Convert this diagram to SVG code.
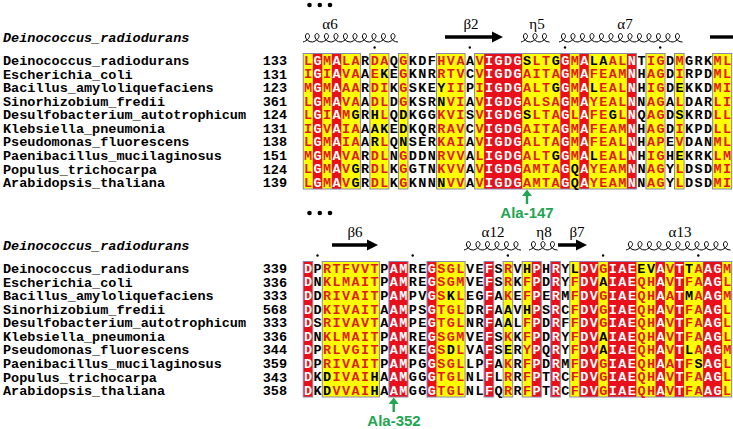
<svg xmlns="http://www.w3.org/2000/svg" width="733" height="429" viewBox="0 0 733 429">
<style>
.seq{font-family:"Liberation Mono","Courier New",monospace;font-weight:bold;font-size:13.5px;letter-spacing:1.42px;fill:#000}
.r{fill:#e21a1a}
.w{fill:#ffffff}
.nm{font-family:"Liberation Mono","Courier New",monospace;font-weight:bold;font-size:13.5px;fill:#000}
.hd{font-family:"Liberation Mono","Courier New",monospace;font-weight:bold;font-style:italic;font-size:13.5px;fill:#000}
.num{text-anchor:end}
.yl{fill:#ffff00}
.rd{fill:#e8101a}
.fr{fill:none;stroke:#8c84aa;stroke-width:1}
.coil{fill:none;stroke:#000;stroke-width:1}
.ss{font-family:"Liberation Serif","Times New Roman",serif;font-size:15px;fill:#000;text-anchor:middle}
.arw{fill:#000}
.grn{fill:#22a552}
.gtx{font-family:"Liberation Sans",Arial,sans-serif;font-weight:bold;font-size:15px;fill:#22a552;text-anchor:middle}
</style>

<g id="top-block">
  <g id="top-ellipsis"><circle cx="309.5" cy="5" r="2.3"/><circle cx="319.8" cy="5" r="2.3"/><circle cx="330" cy="5" r="2.3"/></g>
  <g id="top-header"><text class="hd" x="3" y="41.5">Deinococcus_radiodurans</text></g>
  <g id="top-ss">
    <text class="ss" x="330" y="29">α6</text>
    <path class="coil" d="M303,42c4,-1 8,-5 6,-7.5c-1.5,-2 -4,-0.5 -3.5,2.5c0.5,3 3.5,5 7,5c4,-1 8,-5 6,-7.5c-1.5,-2 -4,-0.5 -3.5,2.5c0.5,3 3.5,5 7,5c4,-1 8,-5 6,-7.5c-1.5,-2 -4,-0.5 -3.5,2.5c0.5,3 3.5,5 7,5c4,-1 8,-5 6,-7.5c-1.5,-2 -4,-0.5 -3.5,2.5c0.5,3 3.5,5 7,5c4,-1 8,-5 6,-7.5c-1.5,-2 -4,-0.5 -3.5,2.5c0.5,3 3.5,5 7,5c4,-1 8,-5 6,-7.5c-1.5,-2 -4,-0.5 -3.5,2.5c0.5,3 3.5,5 7,5c4,-1 8,-5 6,-7.5c-1.5,-2 -4,-0.5 -3.5,2.5c0.5,3 3.5,5 7,5c4,-1 8,-5 6,-7.5c-1.5,-2 -4,-0.5 -3.5,2.5c0.5,3 3.5,5 7,5c4,-1 8,-5 6,-7.5c-1.5,-2 -4,-0.5 -3.5,2.5c0.5,3 3.5,5 7,5c4,-1 8,-5 6,-7.5c-1.5,-2 -4,-0.5 -3.5,2.5c0.5,3 3.5,5 7,5"/>
    <text class="ss" x="471" y="29">β2</text>
    <polygon class="arw" points="445,35.3 492,35.3 492,31.5 503,37 492,42.5 492,38.7 445,38.7"/>
    <text class="ss" x="537" y="29">η5</text>
    <path class="coil" d="M521,42c4,-1 8,-5 6,-7.5c-1.5,-2 -4,-0.5 -3.5,2.5c0.5,3 3.5,5 7,5c4,-1 8,-5 6,-7.5c-1.5,-2 -4,-0.5 -3.5,2.5c0.5,3 3.5,5 7,5c4,-1 8,-5 6,-7.5c-1.5,-2 -4,-0.5 -3.5,2.5c0.5,3 3.5,5 7,5"/>
    <text class="ss" x="625" y="29">α7</text>
    <path class="coil" d="M559,42c4,-1 8,-5 6,-7.5c-1.5,-2 -4,-0.5 -3.5,2.5c0.5,3 3.5,5 7,5c4,-1 8,-5 6,-7.5c-1.5,-2 -4,-0.5 -3.5,2.5c0.5,3 3.5,5 7,5c4,-1 8,-5 6,-7.5c-1.5,-2 -4,-0.5 -3.5,2.5c0.5,3 3.5,5 7,5c4,-1 8,-5 6,-7.5c-1.5,-2 -4,-0.5 -3.5,2.5c0.5,3 3.5,5 7,5c4,-1 8,-5 6,-7.5c-1.5,-2 -4,-0.5 -3.5,2.5c0.5,3 3.5,5 7,5c4,-1 8,-5 6,-7.5c-1.5,-2 -4,-0.5 -3.5,2.5c0.5,3 3.5,5 7,5c4,-1 8,-5 6,-7.5c-1.5,-2 -4,-0.5 -3.5,2.5c0.5,3 3.5,5 7,5c4,-1 8,-5 6,-7.5c-1.5,-2 -4,-0.5 -3.5,2.5c0.5,3 3.5,5 7,5c4,-1 8,-5 6,-7.5c-1.5,-2 -4,-0.5 -3.5,2.5c0.5,3 3.5,5 7,5c4,-1 8,-5 6,-7.5c-1.5,-2 -4,-0.5 -3.5,2.5c0.5,3 3.5,5 7,5c4,-1 8,-5 6,-7.5c-1.5,-2 -4,-0.5 -3.5,2.5c0.5,3 3.5,5 7,5c4,-1 8,-5 6,-7.5c-1.5,-2 -4,-0.5 -3.5,2.5c0.5,3 3.5,5 7,5c4,-1 8,-5 6,-7.5c-1.5,-2 -4,-0.5 -3.5,2.5c0.5,3 3.5,5 7,5"/>
    <rect class="arw" x="710" y="35.3" width="23" height="3.4"/>
    <circle cx="374.6" cy="47.5" r="1.2"/><circle cx="469.8" cy="47.5" r="1.2"/><circle cx="565" cy="47.5" r="1.2"/><circle cx="660.2" cy="47.5" r="1.2"/>
  </g>
  <g id="top-names">
    <text class="nm" x="3" y="65.1">Deinococcus_radiodurans</text>
    <text class="nm" x="3" y="78.65">Escherichia_coli</text>
    <text class="nm" x="3" y="92.2">Bacillus_amyloliquefaciens</text>
    <text class="nm" x="3" y="105.75">Sinorhizobium_fredii</text>
    <text class="nm" x="3" y="119.3">Desulfobacterium_autotrophicum</text>
    <text class="nm" x="3" y="132.85">Klebsiella_pneumonia</text>
    <text class="nm" x="3" y="146.4">Pseudomonas_fluorescens</text>
    <text class="nm" x="3" y="159.95">Paenibacillus_mucilaginosus</text>
    <text class="nm" x="3" y="173.5">Populus_trichocarpa</text>
    <text class="nm" x="3" y="187.05">Arabidopsis_thaliana</text>
    <text class="nm num" x="287" y="65.1">133</text>
    <text class="nm num" x="287" y="78.65">131</text>
    <text class="nm num" x="287" y="92.2">123</text>
    <text class="nm num" x="287" y="105.75">361</text>
    <text class="nm num" x="287" y="119.3">124</text>
    <text class="nm num" x="287" y="132.85">131</text>
    <text class="nm num" x="287" y="146.4">138</text>
    <text class="nm num" x="287" y="159.95">151</text>
    <text class="nm num" x="287" y="173.5">124</text>
    <text class="nm num" x="287" y="187.05">139</text>
  </g>
  <g id="top-alignment" transform="translate(303.24,53.5)">
    <g id="top-yellow" class="yl">
      <rect x="0" y="0" width="9.52" height="135.5"/>
      <rect x="19.04" y="0" width="9.52" height="135.5"/>
      <rect x="38.08" y="0" width="19.04" height="135.5"/>
      <rect x="66.64" y="0" width="19.04" height="135.5"/>
      <rect x="95.2" y="0" width="9.52" height="135.5"/>
      <rect x="133.28" y="0" width="28.56" height="135.5"/>
      <rect x="171.36" y="0" width="9.52" height="135.5"/>
      <rect x="218.96" y="0" width="38.08" height="135.5"/>
      <rect x="266.56" y="0" width="9.52" height="135.5"/>
      <rect x="285.6" y="0" width="38.08" height="135.5"/>
      <rect x="342.72" y="0" width="19.04" height="135.5"/>
      <rect x="371.28" y="0" width="9.52" height="135.5"/>
      <rect x="409.36" y="0" width="19.04" height="135.5"/>
    </g>
    <g id="top-red" class="rd">
      <rect x="9.52" y="0" width="9.52" height="135.5"/>
      <rect x="28.56" y="0" width="9.52" height="135.5"/>
      <rect x="180.88" y="0" width="38.08" height="135.5"/>
      <rect x="257.04" y="0" width="9.52" height="135.5"/>
      <rect x="276.08" y="0" width="9.52" height="135.5"/>
      <rect x="323.68" y="0" width="9.52" height="135.5"/>
    </g>
    <g id="top-frames" class="fr">
      <rect x="0" y="0" width="57.12" height="135.5"/>
      <rect x="66.64" y="0" width="19.04" height="135.5"/>
      <rect x="95.2" y="0" width="9.52" height="135.5"/>
      <rect x="133.28" y="0" width="28.56" height="135.5"/>
      <rect x="171.36" y="0" width="161.84" height="135.5"/>
      <rect x="342.72" y="0" width="19.04" height="135.5"/>
      <rect x="371.28" y="0" width="9.52" height="135.5"/>
      <rect x="409.36" y="0" width="19.04" height="135.5"/>
    </g>
    <g id="top-seqs">
      <text class="seq" x="0.71" y="11.4"><tspan class="r">L</tspan><tspan class="w">G</tspan><tspan class="r">M</tspan><tspan class="w">A</tspan><tspan class="r">LA</tspan>R<tspan class="r">DA</tspan>Q<tspan class="r">G</tspan>KDF<tspan class="r">HVA</tspan>A<tspan class="r">V</tspan><tspan class="w">IGDG</tspan>S<tspan class="r">LT</tspan>G<tspan class="w">G</tspan><tspan class="r">M</tspan><tspan class="w">A</tspan>LA<tspan class="r">AL</tspan><tspan class="w">N</tspan>T<tspan class="r">IG</tspan>D<tspan class="r">M</tspan>GRK<tspan class="r">ML</tspan></text>
      <text class="seq" x="0.71" y="24.95"><tspan class="r">I</tspan><tspan class="w">G</tspan><tspan class="r">I</tspan><tspan class="w">A</tspan><tspan class="r">VA</tspan>A<tspan class="r">E</tspan>KE<tspan class="r">G</tspan>KNR<tspan class="r">RTV</tspan>C<tspan class="r">V</tspan><tspan class="w">IGDG</tspan><tspan class="r">AITA</tspan><tspan class="w">G</tspan><tspan class="r">M</tspan><tspan class="w">A</tspan><tspan class="r">FEAM</tspan><tspan class="w">N</tspan>H<tspan class="r">AG</tspan>D<tspan class="r">I</tspan>RPD<tspan class="r">ML</tspan></text>
      <text class="seq" x="0.71" y="38.5"><tspan class="r">M</tspan><tspan class="w">G</tspan><tspan class="r">M</tspan><tspan class="w">A</tspan><tspan class="r">AA</tspan>R<tspan class="r">DI</tspan>K<tspan class="r">G</tspan>SKEY<tspan class="r">II</tspan>P<tspan class="r">I</tspan><tspan class="w">IGDG</tspan><tspan class="r">ALT</tspan>G<tspan class="w">G</tspan><tspan class="r">M</tspan><tspan class="w">A</tspan>L<tspan class="r">EAL</tspan><tspan class="w">N</tspan>H<tspan class="r">IG</tspan>DEKKD<tspan class="r">MI</tspan></text>
      <text class="seq" x="0.71" y="52.05"><tspan class="r">L</tspan><tspan class="w">G</tspan><tspan class="r">M</tspan><tspan class="w">A</tspan><tspan class="r">VA</tspan>A<tspan class="r">DL</tspan>D<tspan class="r">G</tspan>KSRN<tspan class="r">VI</tspan>A<tspan class="r">V</tspan><tspan class="w">IGDG</tspan><tspan class="r">ALSA</tspan><tspan class="w">G</tspan><tspan class="r">M</tspan><tspan class="w">A</tspan><tspan class="r">YEAL</tspan><tspan class="w">N</tspan>N<tspan class="r">AG</tspan>A<tspan class="r">L</tspan>DAR<tspan class="r">LI</tspan></text>
      <text class="seq" x="0.71" y="65.6"><tspan class="r">L</tspan><tspan class="w">G</tspan><tspan class="r">I</tspan><tspan class="w">A</tspan><tspan class="r">M</tspan>GRH<tspan class="r">L</tspan>QDKGG<tspan class="r">KVI</tspan>S<tspan class="r">V</tspan><tspan class="w">IGDG</tspan>S<tspan class="r">LTA</tspan><tspan class="w">G</tspan><tspan class="r">L</tspan><tspan class="w">A</tspan><tspan class="r">FE</tspan>G<tspan class="r">L</tspan><tspan class="w">N</tspan>Q<tspan class="r">AG</tspan>DSKRD<tspan class="r">LL</tspan></text>
      <text class="seq" x="0.71" y="79.15"><tspan class="r">I</tspan><tspan class="w">G</tspan><tspan class="r">V</tspan><tspan class="w">A</tspan><tspan class="r">IA</tspan>AAKEDKQR<tspan class="r">RAV</tspan>C<tspan class="r">V</tspan><tspan class="w">IGDG</tspan><tspan class="r">AITA</tspan><tspan class="w">G</tspan><tspan class="r">M</tspan><tspan class="w">A</tspan><tspan class="r">FEAM</tspan><tspan class="w">N</tspan>H<tspan class="r">AG</tspan>D<tspan class="r">I</tspan>KPD<tspan class="r">LL</tspan></text>
      <text class="seq" x="0.71" y="92.7"><tspan class="r">L</tspan><tspan class="w">G</tspan><tspan class="r">M</tspan><tspan class="w">A</tspan><tspan class="r">IA</tspan>AR<tspan class="r">L</tspan>QNSER<tspan class="r">KAI</tspan>A<tspan class="r">V</tspan><tspan class="w">IGDG</tspan><tspan class="r">ALTA</tspan><tspan class="w">G</tspan><tspan class="r">M</tspan><tspan class="w">A</tspan><tspan class="r">FEAL</tspan><tspan class="w">N</tspan>H<tspan class="r">AP</tspan>E<tspan class="r">V</tspan>DAN<tspan class="r">ML</tspan></text>
      <text class="seq" x="0.71" y="106.25"><tspan class="r">M</tspan><tspan class="w">G</tspan><tspan class="r">M</tspan><tspan class="w">A</tspan><tspan class="r">VA</tspan>R<tspan class="r">DL</tspan>N<tspan class="r">G</tspan>DDN<tspan class="r">RVV</tspan>A<tspan class="r">L</tspan><tspan class="w">IGDG</tspan><tspan class="r">ALT</tspan>G<tspan class="w">G</tspan><tspan class="r">M</tspan><tspan class="w">A</tspan>L<tspan class="r">EAL</tspan><tspan class="w">N</tspan>H<tspan class="r">IG</tspan>HEKRK<tspan class="r">LM</tspan></text>
      <text class="seq" x="0.71" y="119.8"><tspan class="r">L</tspan><tspan class="w">G</tspan><tspan class="r">M</tspan><tspan class="w">A</tspan><tspan class="r">V</tspan>GR<tspan class="r">DL</tspan>K<tspan class="r">G</tspan>GTN<tspan class="r">KVV</tspan>A<tspan class="r">V</tspan><tspan class="w">IGDG</tspan><tspan class="r">AMTA</tspan><tspan class="w">G</tspan>Q<tspan class="w">A</tspan><tspan class="r">YEAM</tspan><tspan class="w">N</tspan>N<tspan class="r">AG</tspan>Y<tspan class="r">L</tspan>DSD<tspan class="r">MI</tspan></text>
      <text class="seq" x="0.71" y="133.35"><tspan class="r">L</tspan><tspan class="w">G</tspan><tspan class="r">M</tspan><tspan class="w">A</tspan><tspan class="r">V</tspan>GR<tspan class="r">DL</tspan>K<tspan class="r">G</tspan>KNNN<tspan class="r">VV</tspan>A<tspan class="r">V</tspan><tspan class="w">IGDG</tspan><tspan class="r">AMTA</tspan><tspan class="w">G</tspan>Q<tspan class="w">A</tspan><tspan class="r">YEAM</tspan><tspan class="w">N</tspan>N<tspan class="r">AG</tspan>Y<tspan class="r">L</tspan>DSD<tspan class="r">MI</tspan></text>
    </g>
  </g>
  <g id="ala147">
    <rect class="grn" x="525.8" y="195" width="2.4" height="9"/>
    <polygon class="grn" points="527,189.5 532,196 522,196"/>
    <text class="gtx" x="527" y="218">Ala-147</text>
  </g>
</g>

<g id="bottom-block">
  <g id="bottom-ellipsis"><circle cx="309.5" cy="213" r="2.3"/><circle cx="319.8" cy="213" r="2.3"/><circle cx="330" cy="213" r="2.3"/></g>
  <g id="bottom-header"><text class="hd" x="3" y="249.5">Deinococcus_radiodurans</text></g>
  <g id="bottom-ss">
    <text class="ss" x="355" y="237">β6</text>
    <polygon class="arw" points="332,243.3 367,243.3 367,239.5 378,245 367,250.5 367,246.7 332,246.7"/>
    <text class="ss" x="493" y="237">α12</text>
    <path class="coil" d="M464,250c4,-1 8,-5 6,-7.5c-1.5,-2 -4,-0.5 -3.5,2.5c0.5,3 3.5,5 7,5c4,-1 8,-5 6,-7.5c-1.5,-2 -4,-0.5 -3.5,2.5c0.5,3 3.5,5 7,5c4,-1 8,-5 6,-7.5c-1.5,-2 -4,-0.5 -3.5,2.5c0.5,3 3.5,5 7,5c4,-1 8,-5 6,-7.5c-1.5,-2 -4,-0.5 -3.5,2.5c0.5,3 3.5,5 7,5c4,-1 8,-5 6,-7.5c-1.5,-2 -4,-0.5 -3.5,2.5c0.5,3 3.5,5 7,5c4,-1 8,-5 6,-7.5c-1.5,-2 -4,-0.5 -3.5,2.5c0.5,3 3.5,5 7,5"/>
    <text class="ss" x="544" y="237">η8</text>
    <path class="coil" d="M529,250c4,-1 8,-5 6,-7.5c-1.5,-2 -4,-0.5 -3.5,2.5c0.5,3 3.5,5 7,5c4,-1 8,-5 6,-7.5c-1.5,-2 -4,-0.5 -3.5,2.5c0.5,3 3.5,5 7,5c4,-1 8,-5 6,-7.5c-1.5,-2 -4,-0.5 -3.5,2.5c0.5,3 3.5,5 7,5"/>
    <text class="ss" x="577" y="237">β7</text>
    <polygon class="arw" points="558,243.3 576,243.3 576,239.5 587,245 576,250.5 576,246.7 558,246.7"/>
    <text class="ss" x="680" y="237">α13</text>
    <path class="coil" d="M626,250c4,-1 8,-5 6,-7.5c-1.5,-2 -4,-0.5 -3.5,2.5c0.5,3 3.5,5 7,5c4,-1 8,-5 6,-7.5c-1.5,-2 -4,-0.5 -3.5,2.5c0.5,3 3.5,5 7,5c4,-1 8,-5 6,-7.5c-1.5,-2 -4,-0.5 -3.5,2.5c0.5,3 3.5,5 7,5c4,-1 8,-5 6,-7.5c-1.5,-2 -4,-0.5 -3.5,2.5c0.5,3 3.5,5 7,5c4,-1 8,-5 6,-7.5c-1.5,-2 -4,-0.5 -3.5,2.5c0.5,3 3.5,5 7,5c4,-1 8,-5 6,-7.5c-1.5,-2 -4,-0.5 -3.5,2.5c0.5,3 3.5,5 7,5c4,-1 8,-5 6,-7.5c-1.5,-2 -4,-0.5 -3.5,2.5c0.5,3 3.5,5 7,5c4,-1 8,-5 6,-7.5c-1.5,-2 -4,-0.5 -3.5,2.5c0.5,3 3.5,5 7,5c4,-1 8,-5 6,-7.5c-1.5,-2 -4,-0.5 -3.5,2.5c0.5,3 3.5,5 7,5c4,-1 8,-5 6,-7.5c-1.5,-2 -4,-0.5 -3.5,2.5c0.5,3 3.5,5 7,5c4,-1 8,-5 6,-7.5c-1.5,-2 -4,-0.5 -3.5,2.5c0.5,3 3.5,5 7,5"/>
    <circle cx="317.5" cy="255.5" r="1.2"/><circle cx="412.7" cy="255.5" r="1.2"/><circle cx="507.9" cy="255.5" r="1.2"/><circle cx="603.1" cy="255.5" r="1.2"/><circle cx="698.3" cy="255.5" r="1.2"/>
  </g>
  <g id="bottom-names">
    <text class="nm" x="3" y="273.1">Deinococcus_radiodurans</text>
    <text class="nm" x="3" y="286.65">Escherichia_coli</text>
    <text class="nm" x="3" y="300.2">Bacillus_amyloliquefaciens</text>
    <text class="nm" x="3" y="313.75">Sinorhizobium_fredii</text>
    <text class="nm" x="3" y="327.3">Desulfobacterium_autotrophicum</text>
    <text class="nm" x="3" y="340.85">Klebsiella_pneumonia</text>
    <text class="nm" x="3" y="354.4">Pseudomonas_fluorescens</text>
    <text class="nm" x="3" y="367.95">Paenibacillus_mucilaginosus</text>
    <text class="nm" x="3" y="381.5">Populus_trichocarpa</text>
    <text class="nm" x="3" y="395.05">Arabidopsis_thaliana</text>
    <text class="nm num" x="287" y="273.1">339</text>
    <text class="nm num" x="287" y="286.65">336</text>
    <text class="nm num" x="287" y="300.2">333</text>
    <text class="nm num" x="287" y="313.75">568</text>
    <text class="nm num" x="287" y="327.3">333</text>
    <text class="nm num" x="287" y="340.85">336</text>
    <text class="nm num" x="287" y="354.4">344</text>
    <text class="nm num" x="287" y="367.95">359</text>
    <text class="nm num" x="287" y="381.5">343</text>
    <text class="nm num" x="287" y="395.05">358</text>
  </g>
  <g id="bottom-alignment" transform="translate(303.24,261.5)">
    <g id="bottom-yellow" class="yl">
      <rect x="19.04" y="0" width="57.12" height="135.5"/>
      <rect x="133.28" y="0" width="28.56" height="135.5"/>
      <rect x="199.92" y="0" width="9.52" height="135.5"/>
      <rect x="218.96" y="0" width="9.52" height="135.5"/>
      <rect x="266.56" y="0" width="9.52" height="135.5"/>
      <rect x="295.12" y="0" width="9.52" height="135.5"/>
      <rect x="333.2" y="0" width="19.04" height="135.5"/>
      <rect x="361.76" y="0" width="9.52" height="135.5"/>
      <rect x="380.8" y="0" width="19.04" height="135.5"/>
      <rect x="418.88" y="0" width="9.52" height="135.5"/>
    </g>
    <g id="bottom-red" class="rd">
      <rect x="0" y="0" width="9.52" height="135.5"/>
      <rect x="85.68" y="0" width="19.04" height="135.5"/>
      <rect x="123.76" y="0" width="9.52" height="135.5"/>
      <rect x="180.88" y="0" width="9.52" height="135.5"/>
      <rect x="228.48" y="0" width="9.52" height="135.5"/>
      <rect x="247.52" y="0" width="9.52" height="135.5"/>
      <rect x="276.08" y="0" width="19.04" height="135.5"/>
      <rect x="304.64" y="0" width="28.56" height="135.5"/>
      <rect x="352.24" y="0" width="9.52" height="135.5"/>
      <rect x="371.28" y="0" width="9.52" height="135.5"/>
      <rect x="399.84" y="0" width="19.04" height="135.5"/>
    </g>
    <g id="bottom-frames" class="fr">
      <rect x="0" y="0" width="9.52" height="135.5"/>
      <rect x="19.04" y="0" width="57.12" height="135.5"/>
      <rect x="85.68" y="0" width="19.04" height="135.5"/>
      <rect x="123.76" y="0" width="38.08" height="135.5"/>
      <rect x="180.88" y="0" width="9.52" height="135.5"/>
      <rect x="199.92" y="0" width="9.52" height="135.5"/>
      <rect x="218.96" y="0" width="19.04" height="135.5"/>
      <rect x="247.52" y="0" width="9.52" height="135.5"/>
      <rect x="266.56" y="0" width="161.84" height="135.5"/>
    </g>
    <g id="bottom-seqs">
      <text class="seq" x="0.71" y="11.4"><tspan class="w">D</tspan>P<tspan class="r">RTFVVT</tspan>P<tspan class="w">AM</tspan>RE<tspan class="w">G</tspan><tspan class="r">SGL</tspan>VE<tspan class="w">F</tspan>S<tspan class="r">R</tspan>VH<tspan class="w">P</tspan>H<tspan class="w">R</tspan>YL<tspan class="w">DV</tspan><tspan class="r">G</tspan><tspan class="w">IAE</tspan>EV<tspan class="w">A</tspan><tspan class="r">V</tspan><tspan class="w">T</tspan>T<tspan class="r">A</tspan><tspan class="w">AG</tspan><tspan class="r">M</tspan></text>
      <text class="seq" x="0.71" y="24.95"><tspan class="w">D</tspan>N<tspan class="r">KLMAIT</tspan>P<tspan class="w">AM</tspan>RE<tspan class="w">G</tspan><tspan class="r">SGM</tspan>VE<tspan class="w">F</tspan>S<tspan class="r">R</tspan>K<tspan class="r">F</tspan><tspan class="w">P</tspan>D<tspan class="w">R</tspan>Y<tspan class="r">F</tspan><tspan class="w">DV</tspan>A<tspan class="w">IAE</tspan><tspan class="r">QH</tspan><tspan class="w">A</tspan><tspan class="r">V</tspan><tspan class="w">T</tspan><tspan class="r">FA</tspan><tspan class="w">AG</tspan><tspan class="r">L</tspan></text>
      <text class="seq" x="0.71" y="38.5"><tspan class="w">D</tspan>D<tspan class="r">RIVAIT</tspan>P<tspan class="w">AM</tspan>PV<tspan class="w">G</tspan><tspan class="r">S</tspan>K<tspan class="r">L</tspan>EG<tspan class="w">F</tspan>A<tspan class="r">K</tspan>E<tspan class="r">F</tspan><tspan class="w">P</tspan>E<tspan class="w">R</tspan>M<tspan class="r">F</tspan><tspan class="w">DV</tspan><tspan class="r">G</tspan><tspan class="w">IAE</tspan><tspan class="r">QH</tspan><tspan class="w">A</tspan><tspan class="r">A</tspan><tspan class="w">T</tspan>M<tspan class="r">A</tspan><tspan class="w">AG</tspan><tspan class="r">M</tspan></text>
      <text class="seq" x="0.71" y="52.05"><tspan class="w">D</tspan>D<tspan class="r">KIVAIT</tspan>A<tspan class="w">AM</tspan>PS<tspan class="w">G</tspan><tspan class="r">TGL</tspan>DR<tspan class="w">F</tspan>AAVH<tspan class="w">P</tspan>S<tspan class="w">R</tspan>C<tspan class="r">F</tspan><tspan class="w">DV</tspan><tspan class="r">G</tspan><tspan class="w">IAE</tspan><tspan class="r">QH</tspan><tspan class="w">A</tspan><tspan class="r">V</tspan><tspan class="w">T</tspan><tspan class="r">FA</tspan><tspan class="w">AG</tspan><tspan class="r">L</tspan></text>
      <text class="seq" x="0.71" y="65.6"><tspan class="w">D</tspan>S<tspan class="r">RIVAVT</tspan>A<tspan class="w">AM</tspan>PE<tspan class="w">G</tspan><tspan class="r">TGL</tspan>NR<tspan class="w">F</tspan>AAL<tspan class="r">F</tspan><tspan class="w">P</tspan>D<tspan class="w">R</tspan>F<tspan class="r">F</tspan><tspan class="w">DV</tspan><tspan class="r">G</tspan><tspan class="w">IAE</tspan><tspan class="r">QH</tspan><tspan class="w">A</tspan><tspan class="r">V</tspan><tspan class="w">T</tspan><tspan class="r">FA</tspan><tspan class="w">AG</tspan><tspan class="r">L</tspan></text>
      <text class="seq" x="0.71" y="79.15"><tspan class="w">D</tspan>N<tspan class="r">KLMAIT</tspan>P<tspan class="w">AM</tspan>RE<tspan class="w">G</tspan><tspan class="r">SGM</tspan>VE<tspan class="w">F</tspan>S<tspan class="r">K</tspan>K<tspan class="r">F</tspan><tspan class="w">P</tspan>D<tspan class="w">R</tspan>Y<tspan class="r">F</tspan><tspan class="w">DV</tspan>A<tspan class="w">IAE</tspan><tspan class="r">QH</tspan><tspan class="w">A</tspan><tspan class="r">V</tspan><tspan class="w">T</tspan><tspan class="r">FA</tspan><tspan class="w">AG</tspan><tspan class="r">L</tspan></text>
      <text class="seq" x="0.71" y="92.7"><tspan class="w">D</tspan>P<tspan class="r">RLVGIT</tspan>P<tspan class="w">AM</tspan>KE<tspan class="w">G</tspan><tspan class="r">S</tspan>D<tspan class="r">L</tspan>VA<tspan class="w">F</tspan>SER<tspan class="r">Y</tspan><tspan class="w">P</tspan>Q<tspan class="w">R</tspan>Y<tspan class="r">F</tspan><tspan class="w">DV</tspan>A<tspan class="w">IAE</tspan><tspan class="r">QH</tspan><tspan class="w">A</tspan><tspan class="r">V</tspan><tspan class="w">T</tspan>L<tspan class="r">A</tspan><tspan class="w">AG</tspan><tspan class="r">M</tspan></text>
      <text class="seq" x="0.71" y="106.25"><tspan class="w">D</tspan>P<tspan class="r">RIVAIT</tspan>P<tspan class="w">AM</tspan>PG<tspan class="w">G</tspan><tspan class="r">SGL</tspan>LP<tspan class="w">F</tspan>A<tspan class="r">K</tspan>R<tspan class="r">F</tspan><tspan class="w">P</tspan>D<tspan class="w">R</tspan>M<tspan class="r">F</tspan><tspan class="w">DV</tspan><tspan class="r">G</tspan><tspan class="w">IAE</tspan><tspan class="r">QH</tspan><tspan class="w">A</tspan><tspan class="r">A</tspan><tspan class="w">T</tspan><tspan class="r">F</tspan>S<tspan class="w">AG</tspan><tspan class="r">L</tspan></text>
      <text class="seq" x="0.71" y="119.8"><tspan class="w">D</tspan>KD<tspan class="r">IVAI</tspan>HA<tspan class="w">AM</tspan>GG<tspan class="w">G</tspan><tspan class="r">TGL</tspan>NL<tspan class="w">F</tspan>L<tspan class="r">R</tspan>R<tspan class="r">F</tspan><tspan class="w">P</tspan>T<tspan class="w">R</tspan>C<tspan class="r">F</tspan><tspan class="w">DV</tspan><tspan class="r">G</tspan><tspan class="w">IAE</tspan><tspan class="r">QH</tspan><tspan class="w">A</tspan><tspan class="r">V</tspan><tspan class="w">T</tspan><tspan class="r">FA</tspan><tspan class="w">AG</tspan><tspan class="r">L</tspan></text>
      <text class="seq" x="0.71" y="133.35"><tspan class="w">D</tspan>KD<tspan class="r">VVAI</tspan>HA<tspan class="w">AM</tspan>GG<tspan class="w">G</tspan><tspan class="r">TGL</tspan>NL<tspan class="w">F</tspan>Q<tspan class="r">R</tspan>R<tspan class="r">F</tspan><tspan class="w">P</tspan>T<tspan class="w">R</tspan>C<tspan class="r">F</tspan><tspan class="w">DV</tspan><tspan class="r">G</tspan><tspan class="w">IAE</tspan><tspan class="r">QH</tspan><tspan class="w">A</tspan><tspan class="r">V</tspan><tspan class="w">T</tspan><tspan class="r">FA</tspan><tspan class="w">AG</tspan><tspan class="r">L</tspan></text>
    </g>
  </g>
  <g id="ala352">
    <rect class="grn" x="392.5" y="403" width="2.4" height="9"/>
    <polygon class="grn" points="393.7,397.5 398.7,404 388.7,404"/>
    <text class="gtx" x="394" y="426">Ala-352</text>
  </g>
</g>
</svg>
